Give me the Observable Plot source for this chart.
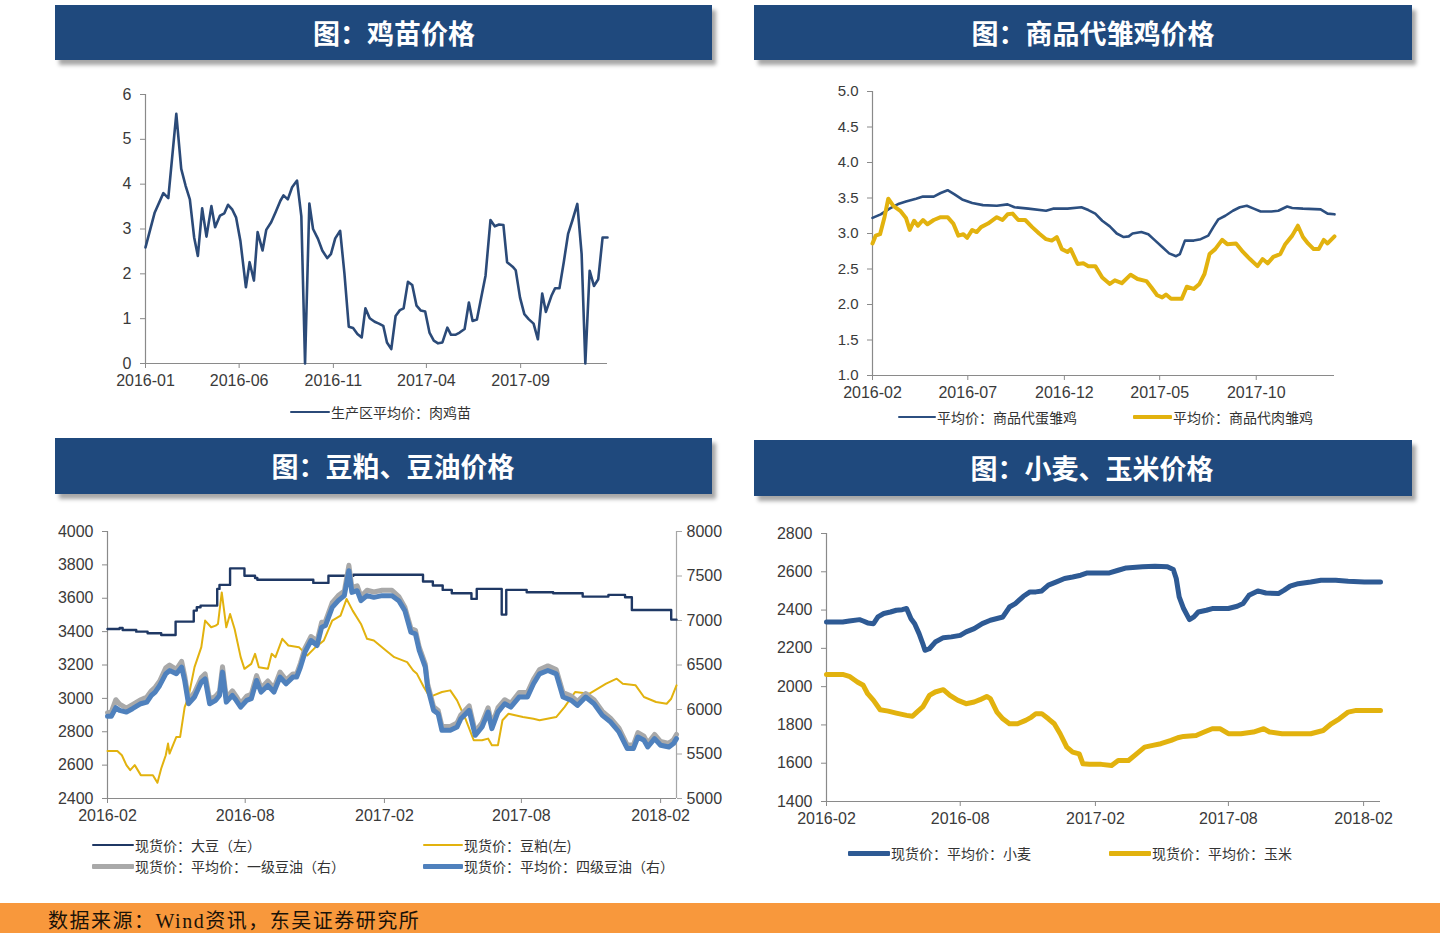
<!DOCTYPE html>
<html><head><meta charset="utf-8">
<script src="https://cdn.jsdelivr.net/npm/d3@7"></script>
<script src="https://cdn.jsdelivr.net/npm/@observablehq/plot@0.6"></script>
<style>
body{margin:0;width:1440px;height:933px;position:relative;background:#fff;overflow:hidden;font-family:"Liberation Sans",Arial,"Noto Sans CJK SC",sans-serif;}
.banner{position:absolute;background:#1f497d;box-shadow:4px 5px 4px rgba(0,0,0,0.35);color:#fff;font-family:"Noto Sans CJK SC",sans-serif;font-weight:700;font-size:27px;}
.banner span{position:absolute;top:50%;transform:translate(-50%,-52%);white-space:nowrap;}
.chart{position:absolute;}
.chart svg{overflow:visible;}
.leg{position:absolute;font-family:"Noto Sans CJK SC",sans-serif;font-size:14px;color:#333;white-space:nowrap;line-height:1;transform:translateY(-50%);}
.sw{position:absolute;border-radius:1px;}
.footer{position:absolute;left:0;top:903px;width:1440px;height:30px;background:#f8983c;}
.footer span{position:absolute;left:48px;top:2px;font-family:"Liberation Serif","Noto Sans CJK SC",serif;font-size:20px;letter-spacing:1.5px;color:#1a1208;white-space:nowrap;}
</style></head><body>
<div class="banner" style="left:55px;top:5px;width:657px;height:55px"><span style="left:339px">图：鸡苗价格</span></div>
<div class="banner" style="left:754px;top:5px;width:658px;height:55px"><span style="left:339px">图：商品代雏鸡价格</span></div>
<div class="banner" style="left:55px;top:438px;width:657px;height:56px"><span style="left:338px">图：豆粕、豆油价格</span></div>
<div class="banner" style="left:754px;top:440px;width:658px;height:56px"><span style="left:338px">图：小麦、玉米价格</span></div>
<div id="c1" class="chart" style="left:80px;top:80px"></div>
<div id="c2" class="chart" style="left:800px;top:80px"></div>
<div id="c3" class="chart" style="left:30px;top:515px"></div>
<div id="c4" class="chart" style="left:750px;top:520px"></div>
<div class="footer"><span>数据来源：Wind资讯，东吴证券研究所</span></div>
<script>
// ---------- Chart 1: 鸡苗价格 (weekly) ----------
const chickSeries = [["2016-01-01",2.59],["2016-01-16",3.37],["2016-01-30",3.80],["2016-02-07",3.69],["2016-02-20",5.57],["2016-02-28",4.34],["2016-03-06",3.97],["2016-03-13",3.66],["2016-03-20",2.81],["2016-03-26",2.40],["2016-04-02",3.46],["2016-04-09",2.83],["2016-04-17",3.51],["2016-04-23",3.04],["2016-05-01",3.30],["2016-05-08",3.35],["2016-05-14",3.54],["2016-05-21",3.43],["2016-05-27",3.26],["2016-06-03",2.74],["2016-06-12",1.70],["2016-06-18",2.26],["2016-06-25",1.85],["2016-07-01",2.93],["2016-07-09",2.52],["2016-07-15",2.98],["2016-07-23",3.15],["2016-07-30",3.37],["2016-08-07",3.63],["2016-08-12",3.75],["2016-08-19",3.66],["2016-08-26",3.93],["2016-09-03",4.08],["2016-09-10",3.28],["2016-09-16",0],["2016-09-23",3.57],["2016-09-29",3.00],["2016-10-07",2.78],["2016-10-14",2.52],["2016-10-22",2.35],["2016-10-28",2.44],["2016-11-04",2.79],["2016-11-12",2.96],["2016-11-19",2.00],["2016-11-26",0.82],["2016-12-03",0.79],["2016-12-10",0.66],["2016-12-17",0.58],["2016-12-23",1.23],["2016-12-30",1.01],["2017-01-07",0.93],["2017-01-14",0.89],["2017-01-21",0.84],["2017-01-27",0.47],["2017-02-03",0.32],["2017-02-10",1.06],["2017-02-17",1.19],["2017-02-23",1.23],["2017-03-02",1.82],["2017-03-09",1.75],["2017-03-16",1.29],["2017-03-23",1.18],["2017-03-30",1.16],["2017-04-06",0.69],["2017-04-13",0.51],["2017-04-20",0.45],["2017-04-27",0.47],["2017-05-05",0.80],["2017-05-11",0.64],["2017-05-18",0.64],["2017-05-25",0.69],["2017-06-02",0.77],["2017-06-09",1.36],["2017-06-15",0.95],["2017-06-22",0.98],["2017-06-29",1.47],["2017-07-06",1.96],["2017-07-14",3.20],["2017-07-21",3.06],["2017-07-28",3.10],["2017-08-04",3.09],["2017-08-10",2.26],["2017-08-19",2.16],["2017-08-24",2.08],["2017-08-31",1.47],["2017-09-07",1.10],["2017-09-14",0.99],["2017-09-22",0.89],["2017-09-29",0.54],["2017-10-06",1.56],["2017-10-12",1.15],["2017-10-21",1.51],["2017-10-27",1.68],["2017-11-03",1.68],["2017-11-10",2.26],["2017-11-17",2.89],["2017-11-24",3.19],["2017-12-02",3.56],["2017-12-09",2.44],["2017-12-15",0],["2017-12-22",2.07],["2017-12-29",1.73],["2018-01-05",1.88],["2018-01-12",2.81],["2018-01-20",2.81]];
const chickXTicks = ["2016-01-01","2016-06-01","2016-11-01","2017-04-01","2017-09-01"];
const chickYTicks = [0,1,2,3,4,5,6];
const chickLegend = ["生产区平均价：肉鸡苗"];

// ---------- Chart 2: 商品代雏鸡价格 ----------
const eggChickSeries = [["2016-02-01",3.22],["2016-02-14",3.27],["2016-02-28",3.35],["2016-03-14",3.42],["2016-03-25",3.45],["2016-04-10",3.49],["2016-04-21",3.52],["2016-05-08",3.52],["2016-05-19",3.57],["2016-05-30",3.61],["2016-06-10",3.55],["2016-06-22",3.48],["2016-07-08",3.43],["2016-07-25",3.40],["2016-08-16",3.39],["2016-09-02",3.41],["2016-09-13",3.37],["2016-10-05",3.35],["2016-11-02",3.32],["2016-11-13",3.35],["2016-12-06",3.35],["2016-12-28",3.37],["2017-01-08",3.33],["2017-01-19",3.28],["2017-01-30",3.18],["2017-02-11",3.10],["2017-02-22",3.00],["2017-03-05",2.95],["2017-03-13",2.96],["2017-03-19",3.00],["2017-04-02",3.02],["2017-04-13",2.99],["2017-04-24",2.90],["2017-05-05",2.81],["2017-05-16",2.72],["2017-05-27",2.68],["2017-06-02",2.71],["2017-06-10",2.90],["2017-06-24",2.90],["2017-07-05",2.92],["2017-07-17",2.97],["2017-07-25",3.09],["2017-08-02",3.20],["2017-08-13",3.25],["2017-08-25",3.32],["2017-09-05",3.37],["2017-09-16",3.39],["2017-09-27",3.35],["2017-10-08",3.31],["2017-10-25",3.31],["2017-11-05",3.32],["2017-11-19",3.38],["2017-11-27",3.36],["2017-12-14",3.35],["2018-01-11",3.34],["2018-01-22",3.28],["2018-02-02",3.27]];
const broilerChickSeries = [["2016-02-01",2.86],["2016-02-06",2.97],["2016-02-13",2.99],["2016-02-20",3.23],["2016-02-26",3.49],["2016-03-05",3.39],["2016-03-16",3.32],["2016-03-25",3.22],["2016-03-31",3.05],["2016-04-07",3.18],["2016-04-13",3.11],["2016-04-21",3.19],["2016-04-28",3.13],["2016-05-08",3.19],["2016-05-19",3.23],["2016-05-30",3.23],["2016-06-08",3.14],["2016-06-16",2.97],["2016-06-24",2.99],["2016-06-30",2.94],["2016-07-08",3.05],["2016-07-15",3.02],["2016-07-22",3.09],["2016-08-02",3.14],["2016-08-16",3.23],["2016-08-25",3.19],["2016-09-02",3.27],["2016-09-10",3.28],["2016-09-19",3.19],["2016-09-30",3.19],["2016-10-11",3.09],["2016-10-22",3.00],["2016-11-02",2.92],["2016-11-11",2.90],["2016-11-19",2.95],["2016-11-27",2.78],["2016-12-06",2.74],["2016-12-11",2.78],["2016-12-22",2.57],["2016-12-31",2.58],["2017-01-08",2.54],["2017-01-19",2.54],["2017-01-30",2.38],["2017-02-11",2.29],["2017-02-19",2.34],["2017-03-02",2.30],["2017-03-16",2.42],["2017-03-27",2.36],["2017-04-10",2.33],["2017-04-18",2.24],["2017-04-27",2.13],["2017-05-05",2.10],["2017-05-11",2.14],["2017-05-19",2.08],["2017-06-05",2.08],["2017-06-13",2.25],["2017-06-24",2.22],["2017-07-03",2.29],["2017-07-11",2.43],["2017-07-19",2.71],["2017-07-28",2.78],["2017-08-08",2.91],["2017-08-16",2.85],["2017-08-30",2.86],["2017-09-10",2.74],["2017-09-21",2.64],["2017-10-03",2.54],["2017-10-11",2.64],["2017-10-19",2.58],["2017-10-28",2.67],["2017-11-08",2.71],["2017-11-16",2.85],["2017-11-27",2.97],["2017-12-06",3.11],["2017-12-14",2.95],["2017-12-22",2.86],["2017-12-31",2.78],["2018-01-08",2.78],["2018-01-16",2.91],["2018-01-22",2.86],["2018-02-02",2.96]];
const chickPriceXTicks = ["2016-02-01","2016-07-01","2016-12-01","2017-05-01","2017-10-01"];
const chickPriceYTicks = [1,1.5,2,2.5,3,3.5,4,4.5,5];
const chickPriceLegend = ["平均价：商品代蛋雏鸡","平均价：商品代肉雏鸡"];

// ---------- Chart 3: 豆粕、豆油价格 ----------
const soybeanSeries = [["2016-02-01",3416],["2016-02-17",3422],["2016-02-21",3410],["2016-03-10",3400],["2016-03-25",3390],["2016-04-12",3380],["2016-05-01",3460],["2016-05-25",3526],["2016-05-29",3546],["2016-06-03",3556],["2016-06-25",3656],["2016-06-28",3680],["2016-07-12",3779],["2016-07-31",3735],["2016-08-14",3721],["2016-08-17",3711],["2016-10-30",3692],["2016-11-19",3735],["2016-12-22",3741],["2017-03-24",3700],["2017-04-06",3676],["2017-04-19",3650],["2017-05-01",3630],["2017-05-27",3596],["2017-06-03",3656],["2017-07-06",3502],["2017-07-12",3650],["2017-08-08",3636],["2017-09-12",3630],["2017-10-21",3610],["2017-11-24",3620],["2017-12-16",3606],["2017-12-25",3530],["2018-02-15",3472],["2018-02-22",3472]];
const mealSeries = [["2016-02-01",2685],["2016-02-14",2685],["2016-02-20",2659],["2016-02-26",2600],["2016-03-02",2570],["2016-03-08",2600],["2016-03-16",2540],["2016-04-01",2540],["2016-04-07",2494],["2016-04-12",2580],["2016-04-18",2659],["2016-04-21",2729],["2016-04-23",2669],["2016-05-02",2769],["2016-05-07",2769],["2016-05-13",2948],["2016-05-18",3008],["2016-05-26",3187],["2016-06-04",3307],["2016-06-09",3466],["2016-06-17",3426],["2016-06-23",3436],["2016-06-26",3446],["2016-07-01",3635],["2016-07-07",3426],["2016-07-12",3506],["2016-07-18",3416],["2016-07-26",3247],["2016-07-31",3177],["2016-08-09",3207],["2016-08-14",3267],["2016-08-19",3187],["2016-08-31",3177],["2016-09-05",3267],["2016-09-10",3247],["2016-09-19",3357],["2016-09-27",3317],["2016-10-11",3307],["2016-10-22",3257],["2016-11-02",3307],["2016-11-13",3347],["2016-11-24",3466],["2016-12-05",3496],["2016-12-13",3596],["2016-12-21",3526],["2017-01-01",3446],["2017-01-09",3357],["2017-01-18",3347],["2017-02-03",3287],["2017-02-14",3247],["2017-03-03",3217],["2017-03-11",3167],["2017-03-16",3147],["2017-03-25",3068],["2017-04-02",3008],["2017-04-07",3018],["2017-04-18",3038],["2017-04-29",3048],["2017-05-08",2988],["2017-05-19",2878],["2017-05-30",2749],["2017-06-10",2749],["2017-06-18",2759],["2017-06-23",2719],["2017-07-01",2719],["2017-07-07",2869],["2017-07-15",2908],["2017-08-03",2888],["2017-08-17",2878],["2017-08-25",2869],["2017-09-16",2888],["2017-09-27",2948],["2017-10-11",3038],["2017-10-30",3028],["2017-11-21",3088],["2017-12-05",3118],["2017-12-13",3088],["2017-12-30",3078],["2018-01-10",3008],["2018-01-26",2978],["2018-02-09",2968],["2018-02-15",2998],["2018-02-22",3078]];
const oil4Series = [["2016-02-01",5923],["2016-02-06",5923],["2016-02-12",6020],["2016-02-17",5990],["2016-02-26",5971],["2016-03-05",6009],["2016-03-16",6065],["2016-03-24",6083],["2016-03-30",6158],["2016-04-04",6196],["2016-04-10",6270],["2016-04-18",6401],["2016-04-23",6438],["2016-05-02",6401],["2016-05-09",6476],["2016-05-13",6326],["2016-05-18",6065],["2016-05-26",6140],["2016-06-04",6308],["2016-06-09",6345],["2016-06-15",6065],["2016-06-23",6103],["2016-06-28",6158],["2016-07-02",6420],["2016-07-07",6083],["2016-07-15",6158],["2016-07-20",6103],["2016-07-26",6027],["2016-08-03",6103],["2016-08-09",6121],["2016-08-16",6326],["2016-08-22",6196],["2016-08-31",6270],["2016-09-08",6196],["2016-09-16",6364],["2016-09-24",6289],["2016-10-03",6364],["2016-10-08",6364],["2016-10-13",6476],["2016-10-19",6644],["2016-10-27",6775],["2016-11-04",6719],["2016-11-10",6924],["2016-11-15",6943],["2016-11-24",7148],["2016-12-02",7223],["2016-12-10",7279],["2016-12-16",7559],["2016-12-20",7316],["2016-12-27",7335],["2017-01-01",7223],["2017-01-09",7279],["2017-01-18",7260],["2017-01-29",7279],["2017-02-11",7279],["2017-02-20",7223],["2017-02-28",7111],["2017-03-08",6868],["2017-03-14",6849],["2017-03-19",6663],["2017-03-27",6476],["2017-03-30",6252],["2017-04-07",5990],["2017-04-13",5953],["2017-04-18",5766],["2017-04-29",5766],["2017-05-08",5803],["2017-05-13",5897],["2017-05-24",5990],["2017-06-01",5710],["2017-06-10",5803],["2017-06-18",5971],["2017-06-23",5785],["2017-07-01",5971],["2017-07-10",6065],["2017-07-18",6027],["2017-07-29",6140],["2017-08-09",6140],["2017-08-17",6289],["2017-08-25",6401],["2017-09-05",6438],["2017-09-16",6401],["2017-09-25",6140],["2017-10-06",6103],["2017-10-14",6046],["2017-10-25",6140],["2017-11-05",6065],["2017-11-16",5934],["2017-11-27",5859],["2017-12-08",5747],["2017-12-19",5561],["2017-12-27",5561],["2018-01-02",5691],["2018-01-10",5654],["2018-01-15",5579],["2018-01-24",5673],["2018-02-01",5598],["2018-02-12",5579],["2018-02-18",5617],["2018-02-22",5673]];
const oil1Series = [["2016-02-01",5965],["2016-02-06",5970],["2016-02-12",6110],["2016-02-17",6060],["2016-02-26",6015],["2016-03-05",6055],["2016-03-16",6110],["2016-03-24",6140],["2016-03-30",6210],["2016-04-04",6250],["2016-04-10",6320],["2016-04-18",6470],["2016-04-23",6500],["2016-05-02",6450],["2016-05-09",6540],["2016-05-13",6380],["2016-05-18",6110],["2016-05-26",6190],["2016-06-04",6360],["2016-06-09",6400],["2016-06-15",6110],["2016-06-23",6150],["2016-06-28",6200],["2016-07-02",6480],["2016-07-07",6130],["2016-07-15",6210],["2016-07-20",6150],["2016-07-26",6070],["2016-08-03",6150],["2016-08-09",6170],["2016-08-16",6380],["2016-08-22",6240],["2016-08-31",6320],["2016-09-08",6240],["2016-09-16",6420],["2016-09-24",6330],["2016-10-03",6400],["2016-10-08",6400],["2016-10-13",6520],["2016-10-19",6690],["2016-10-27",6820],["2016-11-04",6770],["2016-11-10",6980],["2016-11-15",6990],["2016-11-24",7200],["2016-12-02",7280],["2016-12-10",7330],["2016-12-16",7620],["2016-12-20",7370],["2016-12-27",7390],["2017-01-01",7270],["2017-01-09",7340],["2017-01-18",7320],["2017-01-29",7340],["2017-02-11",7340],["2017-02-20",7270],["2017-02-28",7150],["2017-03-08",6910],["2017-03-14",6890],["2017-03-19",6700],["2017-03-27",6510],["2017-03-30",6290],["2017-04-07",6030],["2017-04-13",5990],["2017-04-18",5810],["2017-04-29",5810],["2017-05-08",5850],["2017-05-13",5940],["2017-05-24",6040],["2017-06-01",5750],["2017-06-10",5850],["2017-06-18",6020],["2017-06-23",5830],["2017-07-01",6020],["2017-07-10",6110],["2017-07-18",6070],["2017-07-29",6190],["2017-08-09",6190],["2017-08-17",6340],["2017-08-25",6450],["2017-09-05",6490],["2017-09-16",6450],["2017-09-25",6190],["2017-10-06",6150],["2017-10-14",6090],["2017-10-25",6180],["2017-11-05",6110],["2017-11-16",5980],["2017-11-27",5900],["2017-12-08",5790],["2017-12-19",5600],["2017-12-27",5600],["2018-01-02",5740],["2018-01-10",5700],["2018-01-15",5620],["2018-01-24",5720],["2018-02-01",5640],["2018-02-12",5620],["2018-02-18",5660],["2018-02-22",5720]];
const soyXTicks = ["2016-02-01","2016-08-01","2017-02-01","2017-08-01","2018-02-01"];
const soyLeftTicks = [2400,2600,2800,3000,3200,3400,3600,3800,4000];
const soyRightTicks = [5000,5500,6000,6500,7000,7500,8000];
const soyLegend = ["现货价：大豆（左）","现货价：豆粕(左)","现货价：平均价：一级豆油（右）","现货价：平均价：四级豆油（右）"];

// ---------- Chart 4: 小麦、玉米价格 ----------
const wheatSeries = [["2016-02-01",2338],["2016-02-23",2338],["2016-03-03",2343],["2016-03-17",2350],["2016-03-22",2343],["2016-03-28",2333],["2016-04-05",2329],["2016-04-11",2364],["2016-04-19",2382],["2016-04-28",2390],["2016-05-06",2399],["2016-05-14",2402],["2016-05-20",2408],["2016-05-26",2355],["2016-05-31",2329],["2016-06-06",2277],["2016-06-11",2225],["2016-06-14",2190],["2016-06-20",2198],["2016-06-28",2233],["2016-07-09",2256],["2016-07-20",2260],["2016-08-01",2268],["2016-08-09",2286],["2016-08-20",2303],["2016-08-31",2329],["2016-09-11",2347],["2016-09-28",2364],["2016-10-07",2416],["2016-10-15",2434],["2016-10-26",2472],["2016-11-04",2495],["2016-11-12",2495],["2016-11-20",2500],["2016-11-29",2530],["2016-12-10",2547],["2016-12-21",2565],["2017-01-01",2573],["2017-01-12",2582],["2017-01-21",2594],["2017-02-20",2594],["2017-03-04",2608],["2017-03-15",2620],["2017-04-06",2626],["2017-04-23",2629],["2017-05-10",2626],["2017-05-18",2612],["2017-05-22",2565],["2017-05-26",2469],["2017-06-01",2408],["2017-06-09",2350],["2017-06-15",2364],["2017-06-21",2390],["2017-07-02",2399],["2017-07-10",2408],["2017-08-01",2408],["2017-08-13",2420],["2017-08-21",2434],["2017-08-29",2477],["2017-09-10",2500],["2017-09-21",2489],["2017-10-08",2486],["2017-10-16",2504],["2017-10-24",2525],["2017-11-04",2538],["2017-11-21",2547],["2017-12-05",2556],["2017-12-25",2556],["2018-01-11",2551],["2018-02-02",2547],["2018-02-24",2547]];
const cornSeries = [["2016-02-01",2064],["2016-02-23",2064],["2016-03-03",2054],["2016-03-14",2024],["2016-03-22",2007],["2016-03-28",1963],["2016-04-05",1928],["2016-04-14",1879],["2016-04-25",1872],["2016-05-06",1862],["2016-05-20",1850],["2016-05-28",1845],["2016-06-03",1867],["2016-06-11",1894],["2016-06-20",1954],["2016-06-28",1972],["2016-07-09",1984],["2016-07-18",1954],["2016-07-29",1928],["2016-08-09",1911],["2016-08-20",1920],["2016-08-28",1932],["2016-09-06",1949],["2016-09-11",1937],["2016-09-20",1867],["2016-09-28",1832],["2016-10-07",1806],["2016-10-18",1806],["2016-10-29",1824],["2016-11-06",1841],["2016-11-12",1859],["2016-11-20",1859],["2016-11-29",1832],["2016-12-07",1806],["2016-12-15",1754],["2016-12-24",1684],["2017-01-01",1658],["2017-01-10",1649],["2017-01-15",1597],["2017-01-24",1594],["2017-02-09",1594],["2017-02-23",1588],["2017-03-04",1614],["2017-03-18",1614],["2017-03-29",1649],["2017-04-09",1684],["2017-04-20",1693],["2017-05-01",1702],["2017-05-15",1719],["2017-05-24",1733],["2017-06-01",1740],["2017-06-18",1745],["2017-06-29",1763],["2017-07-10",1780],["2017-07-21",1780],["2017-08-01",1754],["2017-08-18",1754],["2017-09-04",1763],["2017-09-18",1780],["2017-09-26",1763],["2017-10-13",1754],["2017-11-21",1754],["2017-12-08",1771],["2017-12-19",1806],["2017-12-30",1832],["2018-01-11",1867],["2018-01-22",1876],["2018-02-24",1876]];
const grainXTicks = ["2016-02-01","2016-08-01","2017-02-01","2017-08-01","2018-02-01"];
const grainYTicks = [1400,1600,1800,2000,2200,2400,2600,2800];
const grainLegend = ["现货价：平均价：小麦","现货价：平均价：玉米"];

// ---------- helpers ----------
const D = s => new Date(s);
const fmtYM = d3.utcFormat("%Y-%m");
const AXIS = "#8a8a8a";
const TXT = "#3a3a3a";
const FONT = "'Liberation Sans', Arial, sans-serif";
const baseStyle = {fontFamily: FONT, fontSize: "16px", background: "transparent", overflow: "visible"};
const xv = d => D(d[0]);
const yv = d => d[1];

function xAxis(ticks) {
  return Plot.axisX(ticks.map(D), {tickFormat: fmtYM, tickSize: 5, tickPadding: 6, stroke: AXIS, fill: TXT, fontSize: 16, label: null});
}
function yAxis(ticks, fmt, fs = 16) {
  return Plot.axisY(ticks, {tickFormat: fmt, tickSize: 5, tickPadding: 9, stroke: AXIS, fill: TXT, fontSize: fs, label: null});
}

// Chart 1
const dom1 = [D("2016-01-01"), D("2018-01-20")];
document.getElementById("c1").append(Plot.plot({
  width: 560, height: 320, marginLeft: 65, marginRight: 33, marginTop: 14, marginBottom: 37,
  style: baseStyle,
  x: {type: "utc", domain: dom1},
  y: {domain: [0, 6]},
  marks: [
    yAxis(chickYTicks, d3.format("d")),
    xAxis(chickXTicks),
    Plot.ruleX([dom1[0]], {stroke: AXIS, strokeWidth: 1.2}),
    Plot.ruleY([0], {stroke: AXIS, strokeWidth: 1.2}),
    Plot.line(chickSeries, {x: xv, y: yv, stroke: "#2b4a78", strokeWidth: 2.6})
  ]
}));

// Chart 2
const dom2 = [D("2016-02-01"), D("2018-02-02")];
document.getElementById("c2").append(Plot.plot({
  width: 560, height: 330, marginLeft: 72, marginRight: 26, marginTop: 11, marginBottom: 35,
  style: baseStyle,
  x: {type: "utc", domain: dom2},
  y: {domain: [1, 5]},
  marks: [
    yAxis(chickPriceYTicks, d3.format(".1f"), 15),
    xAxis(chickPriceXTicks),
    Plot.ruleX([dom2[0]], {stroke: AXIS, strokeWidth: 1.2}),
    Plot.ruleY([1], {stroke: AXIS, strokeWidth: 1.2}),
    Plot.line(eggChickSeries, {x: xv, y: yv, stroke: "#2c4f80", strokeWidth: 2.6}),
    Plot.line(broilerChickSeries, {x: xv, y: yv, stroke: "#e2b20e", strokeWidth: 4})
  ]
}));

// Chart 3 (dual axis: right-axis values mapped onto the left scale)
const dom3 = [D("2016-02-01"), D("2018-02-22")];
const toLeft = v => 2400 + (v - 5000) * 1600 / 3000;
const fromLeft = v => 5000 + (v - 2400) * 3000 / 1600;
document.getElementById("c3").append(Plot.plot({
  width: 690, height: 310, marginLeft: 77, marginRight: 44, marginTop: 16, marginBottom: 27,
  style: baseStyle,
  x: {type: "utc", domain: dom3},
  y: {domain: [2400, 4000]},
  marks: [
    yAxis(soyLeftTicks, d3.format("d")),
    Plot.axisY(soyRightTicks.map(toLeft), {anchor: "right", tickFormat: v => String(Math.round(fromLeft(v))), tickSize: 5, tickPadding: 5, stroke: "#a6a6a6", fill: TXT, fontSize: 16, label: null}),
    xAxis(soyXTicks),
    Plot.ruleX([dom3[0]], {stroke: AXIS, strokeWidth: 1.2}),
    Plot.ruleX([dom3[1]], {stroke: "#a6a6a6", strokeWidth: 1.2}),
    Plot.ruleY([2400], {stroke: AXIS, strokeWidth: 1.2}),
    Plot.line(soybeanSeries, {x: xv, y: yv, stroke: "#1f3864", strokeWidth: 2.4, curve: "step-after"}),
    Plot.line(mealSeries, {x: xv, y: yv, stroke: "#e2b20e", strokeWidth: 2}),
    Plot.line(oil1Series, {x: xv, y: d => toLeft(d[1]), stroke: "#a9a9a9", strokeWidth: 5}),
    Plot.line(oil4Series, {x: xv, y: d => toLeft(d[1]), stroke: "#4f81bd", strokeWidth: 5})
  ]
}));

// Chart 4
const dom4 = [D("2016-02-01"), D("2018-02-24")];
document.getElementById("c4").append(Plot.plot({
  width: 650, height: 310, marginLeft: 76, marginRight: 20, marginTop: 13, marginBottom: 29,
  style: baseStyle,
  x: {type: "utc", domain: dom4},
  y: {domain: [1400, 2800]},
  marks: [
    yAxis(grainYTicks, d3.format("d")),
    xAxis(grainXTicks),
    Plot.ruleX([dom4[0]], {stroke: AXIS, strokeWidth: 1.2}),
    Plot.ruleY([1400], {stroke: AXIS, strokeWidth: 1.2}),
    Plot.line(wheatSeries, {x: xv, y: yv, stroke: "#2e5a94", strokeWidth: 5}),
    Plot.line(cornSeries, {x: xv, y: yv, stroke: "#e2b20e", strokeWidth: 5})
  ]
}));

// ---------- legends (HTML, below each plot) ----------
function legend(x1, x2, y, thick, color, text) {
  const sw = document.createElement("div");
  sw.className = "sw";
  sw.style.cssText = `left:${x1}px;top:${y - thick / 2}px;width:${x2 - x1}px;height:${thick}px;background:${color}`;
  document.body.append(sw);
  const t = document.createElement("div");
  t.className = "leg";
  t.style.left = (x2 + 1) + "px";
  t.style.top = y + "px";
  t.textContent = text;
  document.body.append(t);
}
legend(290, 330, 412, 2.6, "#2b4a78", chickLegend[0]);
legend(898, 936, 417, 2.6, "#2c4f80", chickPriceLegend[0]);
legend(1133, 1172, 417, 4, "#e2b20e", chickPriceLegend[1]);
legend(92, 134, 845, 2.4, "#1f3864", soyLegend[0]);
legend(423, 463, 845, 2.4, "#e2b20e", soyLegend[1]);
legend(92, 134, 866, 5, "#a9a9a9", soyLegend[2]);
legend(423, 463, 866, 5, "#4f81bd", soyLegend[3]);
legend(848, 890, 853, 5, "#2e5a94", grainLegend[0]);
legend(1109, 1151, 853, 5, "#e2b20e", grainLegend[1]);
</script>
</body></html>
